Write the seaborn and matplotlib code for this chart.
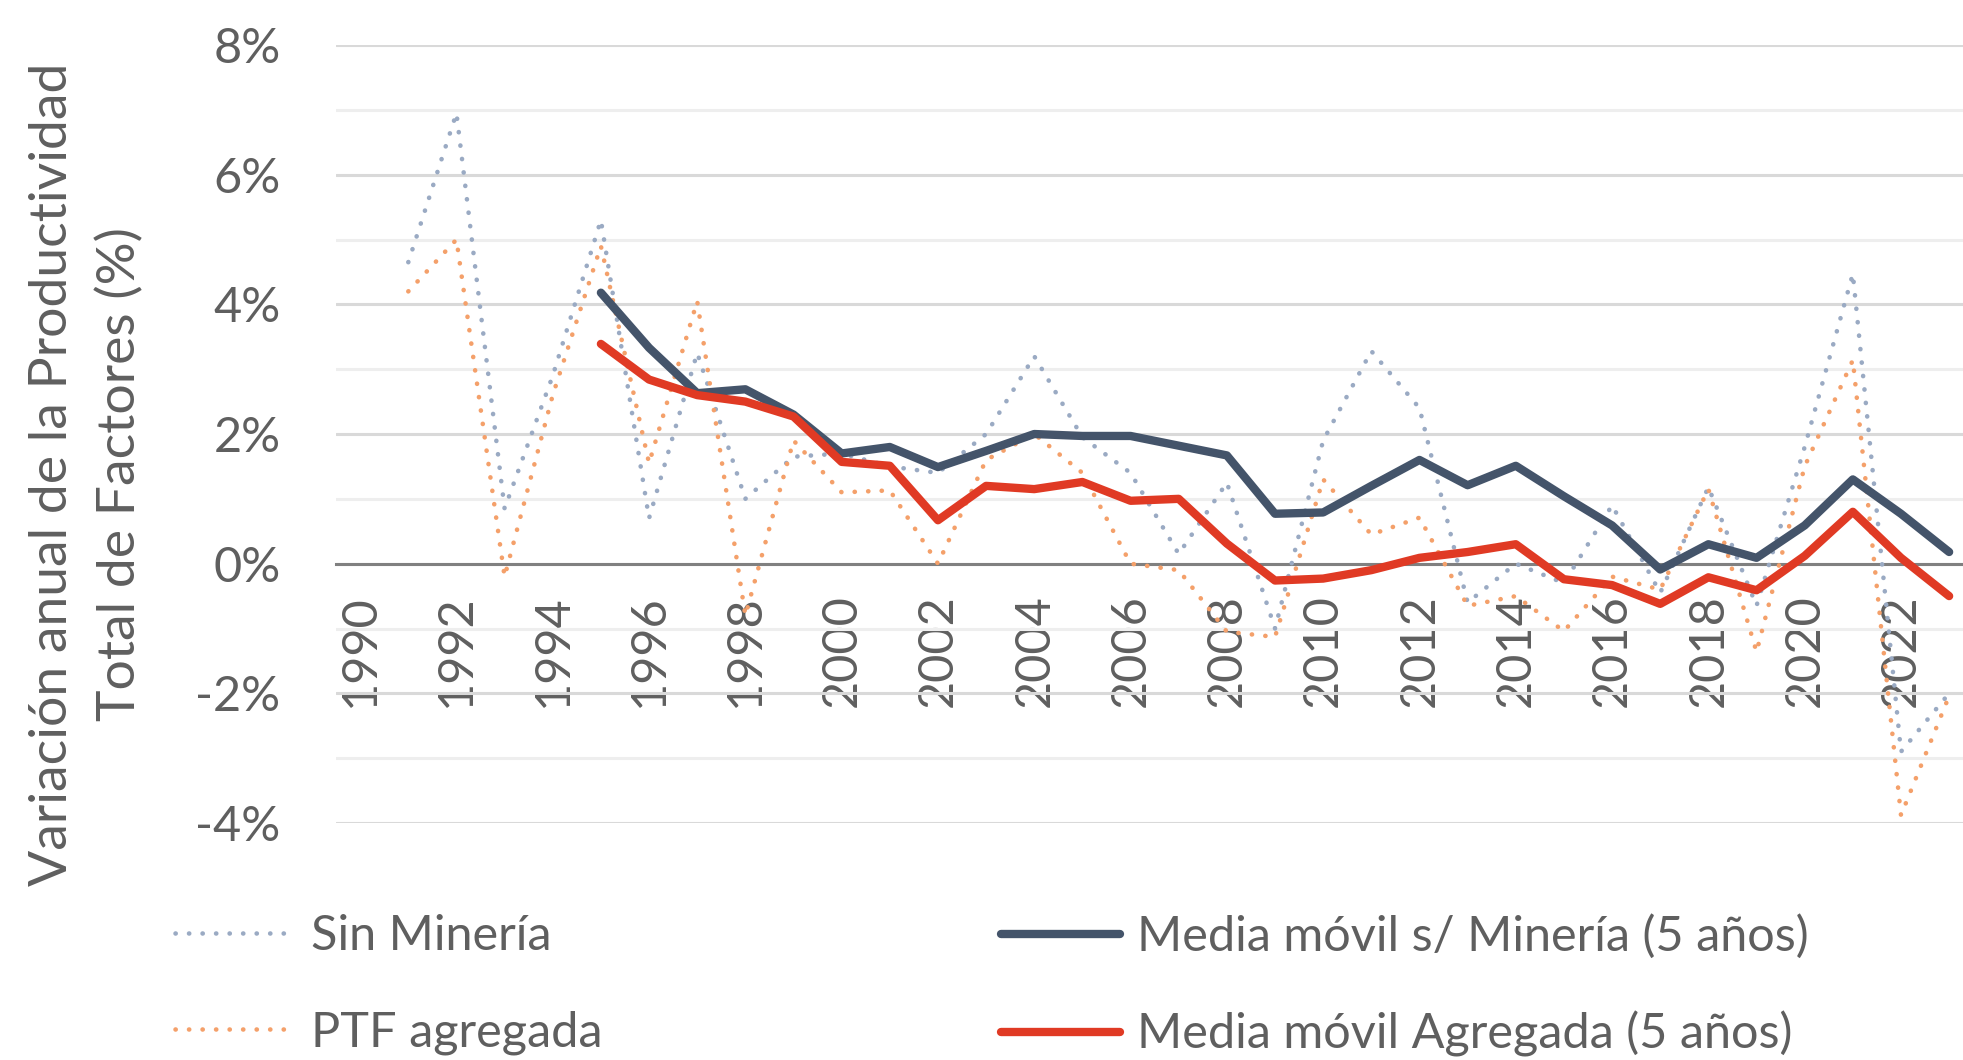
import numpy as np
import pandas as pd
import matplotlib
matplotlib.use("Agg")
import matplotlib.pyplot as plt
import seaborn as sns

# Datos (variación anual, %)
years = list(range(1990, 2024))

sin_mineria = [np.nan, 4.65, 6.95, 0.85, 2.9, 5.3, 0.7, 3.25, 1.0, 1.65,
               1.7, 1.5, 1.4, 2.0, 3.2, 1.95, 1.4, 0.15, 1.25, -1.0,
               1.9, 3.28, 2.4, -0.6, 0.0, -0.3, 0.9, -0.45, 1.18, -0.65,
               1.8, 4.47, -2.9, -2.0]

ptf_agregada = [np.nan, 4.2, 5.0, -0.2, 2.6, 4.9, 1.55, 4.05, -0.8, 1.9,
                1.1, 1.13, 0.0, 1.6, 2.0, 1.4, 0.0, -0.1, -1.05, -1.13,
                1.3, 0.45, 0.71, -0.65, -0.5, -1.04, -0.2, -0.4, 1.15, -1.36,
                1.5, 3.14, -3.88, -2.04]

media_sin_mineria = [np.nan, np.nan, np.nan, np.nan, np.nan, 4.18, 3.33, 2.63, 2.69, 2.3,
                     1.7, 1.8, 1.49, 1.74, 2.0, 1.97, 1.97, 1.82, 1.67, 0.77,
                     0.79, 1.2, 1.6, 1.21, 1.51, 1.04, 0.59, -0.09, 0.3, 0.09,
                     0.59, 1.3, 0.77, 0.18]

media_agregada = [np.nan, np.nan, np.nan, np.nan, np.nan, 3.39, 2.84, 2.6, 2.5, 2.27,
                  1.57, 1.51, 0.67, 1.2, 1.15, 1.26, 0.97, 1.0, 0.31, -0.26,
                  -0.23, -0.1, 0.09, 0.18, 0.3, -0.24, -0.33, -0.62, -0.21, -0.41,
                  0.12, 0.8, 0.09, -0.5]

y_ticks = [-4, -2, 0, 2, 4, 6, 8]
x_ticks = list(range(1990, 2023, 2))

df = pd.DataFrame({
    "year": years,
    "Sin Minería": sin_mineria,
    "PTF agregada": ptf_agregada,
    "Media móvil s/ Minería (5 años)": media_sin_mineria,
    "Media móvil Agregada (5 años)": media_agregada,
})

sns.set_style("white")
plt.rcParams["font.family"] = ["Lato", "DejaVu Sans"]
text_color = "#5f5f5f"

fig = plt.figure(figsize=(19.63, 10.60), dpi=100)
ax = fig.add_axes([0.1712, 0.2236, 0.834, 0.7339])

estilos = {
    "Sin Minería": dict(color="#9aaac3", linewidth=3.3, linestyle=(0, (0.05, 2.9)),
                        dash_capstyle="round"),
    "PTF agregada": dict(color="#f4a06a", linewidth=3.3, linestyle=(0, (0.05, 2.9)),
                         dash_capstyle="round"),
    "Media móvil s/ Minería (5 años)": dict(color="#44546a", linewidth=6.0,
                                           solid_capstyle="round", solid_joinstyle="round"),
    "Media móvil Agregada (5 años)": dict(color="#e03a24", linewidth=6.0,
                                         solid_capstyle="round", solid_joinstyle="round"),
}

for serie, kw in estilos.items():
    d = df[["year", serie]].dropna()
    sns.lineplot(data=d, x="year", y=serie, ax=ax, label=serie, errorbar=None,
                 zorder=3, **kw)

ax.set_xlim(1989.5, 2023.5)
ax.set_ylim(-4, 8)
ax.set_yticks(y_ticks)
ax.set_yticks(list(range(-3, 8, 2)), minor=True)
ax.set_yticklabels([f"{v}%" for v in y_ticks])
ax.set_xticks(x_ticks)
ax.set_xticklabels([str(x) for x in x_ticks])

ax.grid(axis="y", which="major", color="#d9d9d9", linewidth=2.2)
ax.grid(axis="y", which="minor", color="#eeeeee", linewidth=2.2)
ax.set_axisbelow(True)

for s in ["top", "right", "left"]:
    ax.spines[s].set_visible(False)
ax.spines["bottom"].set_position(("data", 0))
ax.spines["bottom"].set_color("#808080")
ax.spines["bottom"].set_linewidth(2.2)
ax.spines["bottom"].set_zorder(2.5)

ax.tick_params(axis="y", which="both", length=0, pad=40, labelsize=35, labelcolor=text_color)
ax.tick_params(axis="x", length=0, pad=22, labelsize=35, labelcolor=text_color,
               labelrotation=90)
ax.set_xlabel("")
ax.set_ylabel("")

fig.text(0.044, 0.553, "Variación anual de la Productividad\nTotal de Factores (%)",
         rotation=90, ha="center", va="center", multialignment="center",
         fontsize=38.5, color=text_color, linespacing=1.5)

ax.get_legend().remove()
handles, labels = ax.get_legend_handles_labels()
legend_kw = dict(frameon=False, fontsize=35, labelcolor=text_color, handlelength=2.45,
                 handletextpad=0.35, labelspacing=1.08, borderpad=0, borderaxespad=0,
                 loc="upper left")
fig.legend([handles[0], handles[1]], [labels[0], labels[1]],
           bbox_to_anchor=(0.089, 0.138), **legend_kw)
fig.legend([handles[2], handles[3]], [labels[2], labels[3]],
           bbox_to_anchor=(0.510, 0.138), **legend_kw)

fig.savefig("out.png", dpi=100)
